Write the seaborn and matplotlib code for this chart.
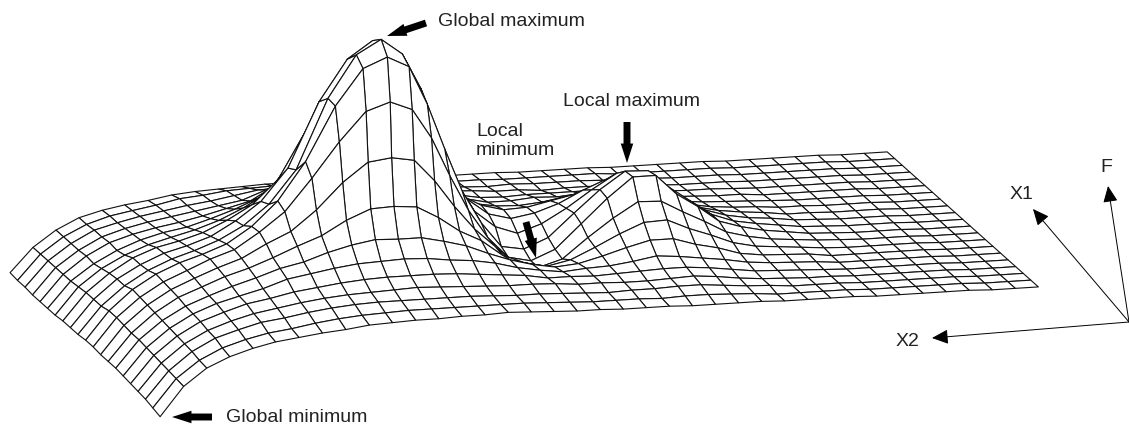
import numpy as np
import seaborn as sns
import matplotlib.pyplot as plt
from matplotlib.patches import FancyArrowPatch

# surface heights, one row per X1 line (back to front),
# one value per X2 line (right to left)
F_rows = [
    [0,0,0,1,1,1,1,1,2,2,2,2,2,3,3,3,3,4,4,4,4,4,6,6,6,7,7,7,6,5,4,2,-2,-5,-9,-15,-26,-42,-66],
    [0,0,0,1,1,1,1,1,2,2,2,2,2,4,4,4,4,4,5,5,6,7,9,11,11,12,12,12,11,10,7,5,0,-4,-8,-15,-26,-42,-67],
    [0,0,0,1,1,1,1,1,2,2,2,3,3,4,5,5,5,6,5,6,8,9,12,15,16,17,18,17,16,12,8,5,1,-3,-8,-14,-26,-42,-67],
    [0,0,0,1,1,1,1,1,2,2,2,3,4,5,6,6,5,7,7,9,10,13,17,21,25,27,28,27,23,14,10,6,2,-2,-7,-14,-26,-42,-68],
    [0,0,0,1,1,1,1,1,2,3,3,4,5,7,9,9,9,9,8,9,13,16,24,31,38,43,45,42,34,20,14,8,3,-1,-6,-13,-25,-42,-68],
    [0,0,0,1,1,1,1,1,3,3,4,5,8,11,15,14,12,13,11,11,16,23,32,44,58,66,70,64,52,30,20,12,5,1,-5,-14,-26,-42,-68],
    [0,0,0,1,1,1,1,2,3,4,5,7,12,17,21,22,19,15,13,14,18,28,44,60,85,104,110,100,78,42,28,17,9,3,-3,-12,-24,-41,-68],
    [0,0,0,1,1,1,2,2,4,5,7,11,18,24,33,35,28,23,18,17,23,35,56,87,119,151,165,148,112,62,38,24,13,6,1,-8,-22,-40,-67],
    [0,0,0,1,1,1,2,2,5,7,10,15,26,36,49,49,39,27,19,15,21,37,64,104,150,188,203,186,145,80,48,30,16,8,2,-8,-21,-40,-67],
    [0,0,0,1,1,1,2,3,6,8,12,19,32,45,61,61,46,29,15,7,15,32,64,108,159,195,211,197,155,85,52,32,19,10,3,-7,-21,-40,-67],
    [0,0,0,1,1,1,2,3,6,9,13,21,36,51,69,70,53,31,8,-2,2,27,60,104,150,189,200,190,154,100,62,38,22,13,6,-4,-18,-38,-66],
    [0,0,0,1,1,1,2,3,6,9,14,21,37,51,71,71,51,27,3,-7,-2,19,48,84,123,153,162,154,125,90,58,39,23,15,5,-5,-19,-38,-66],
    [0,0,0,1,1,1,2,3,5,7,11,17,29,40,52,53,38,20,0,-7,-3,17,36,60,87,109,113,110,91,65,45,34,21,13,4,-6,-20,-39,-67],
    [0,0,0,1,1,1,1,2,4,6,8,13,22,30,40,39,29,17,6,1,6,15,31,42,57,69,71,70,60,46,37,27,18,11,2,-7,-21,-40,-67],
    [0,0,0,1,1,1,1,1,4,5,6,9,16,21,28,28,22,15,9,7,11,17,25,34,40,45,45,46,42,36,28,23,15,8,0,-9,-22,-40,-67],
    [0,0,0,1,1,1,1,1,3,4,5,7,11,14,17,19,15,12,11,9,12,16,22,26,28,31,32,31,30,27,23,19,11,5,-1,-10,-23,-41,-68],
    [0,0,0,1,1,1,1,1,2,3,4,5,8,11,13,13,12,11,10,11,11,15,17,19,21,22,22,22,21,19,16,13,8,4,-3,-11,-24,-42,-69],
    [0,0,0,1,1,1,1,1,2,2,3,4,6,9,11,10,9,9,10,10,12,13,13,14,15,16,17,16,15,14,12,9,5,1,-5,-13,-25,-43,-70],
    [0,0,0,1,1,1,1,1,2,2,2,4,5,7,9,9,8,8,7,8,9,10,10,11,12,12,12,12,12,11,9,6,2,-1,-7,-14,-26,-44,-71],
    [0,0,0,1,1,1,1,1,2,2,2,2,4,5,6,6,5,6,6,6,7,8,9,9,9,9,9,9,8,7,5,2,-2,-5,-10,-17,-28,-45,-73],
    [0,0,0,1,1,1,1,1,2,2,2,2,3,3,3,3,4,4,4,5,5,6,7,8,7,7,6,6,5,4,1,-1,-4,-7,-12,-19,-29,-46,-75],
]

# where the X2 lines sit: evenly apart, a little closer together on the sagging left side
x2_lines = list(range(34)) + [33.95, 34.92, 35.86, 36.77, 37.63]

callout_labels = ["Global maximum", "Local maximum", "Local\nminimum", "Global minimum"]
axis_labels = ["X1", "X2", "F"]

sns.set_theme(style="white")
plt.rcParams["font.family"] = ["Liberation Sans", "DejaVu Sans"]

F = np.array(F_rows, dtype=float)
x2 = np.array(x2_lines, dtype=float)
x1 = np.arange(F.shape[0])
X2, X1 = np.meshgrid(x2, x1)

fig = plt.figure(figsize=(11.29, 4.28), dpi=100)
ax = fig.add_axes([313 / 1129, 31.2 / 428, 428 / 1129, 1.0], projection="3d")
ax.set_proj_type("ortho")
ax.view_init(elev=21.2, azim=62.4, roll=-7.1)
ax.set_box_aspect((4.213, 1.555, 1.402), zoom=2.469)
surf = ax.plot_surface(X2, X1, F, rstride=1, cstride=1, color="white",
                       edgecolor="#111111", linewidth=0.8, shade=False)
surf.set_clip_on(False)
ax.set_xlim(0, 38)
ax.set_ylim(0, 20)
ax.set_zlim(-80, 220)
ax.set_axis_off()

# overlay in pixel coordinates for the notes and arrows
over = fig.add_axes([0, 0, 1, 1], zorder=5)
over.set_xlim(0, 1129)
over.set_ylim(428, 0)
over.axis("off")

text_kw = dict(fontsize=14, color="#222222", va="center")
over.text(438, 21, callout_labels[0], **text_kw)
over.text(563, 101, callout_labels[1], **text_kw)
over.text(476, 141, callout_labels[2], linespacing=1.15, **text_kw)
over.text(226, 418, callout_labels[3], **text_kw)
over.text(1022, 194, axis_labels[0], ha="center", **text_kw)
over.text(908, 342, axis_labels[1], ha="center", **text_kw)
over.text(1106, 168, axis_labels[2], ha="center", **text_kw)

thick = "simple,head_width=9,head_length=14,tail_width=5"
for tail, tip in [((426, 23), (387, 36)), ((212, 417), (172, 417)),
                  ((627, 122), (627, 163)), ((526, 222), (536, 258))]:
    over.add_patch(FancyArrowPatch(tail, tip, arrowstyle=thick, mutation_scale=1,
                                   color="black", lw=0, shrinkA=0, shrinkB=0))

thin = "-|>,head_width=4.5,head_length=10"
for tip in [(1033, 209), (932, 338), (1108, 186)]:
    over.add_patch(FancyArrowPatch((1129, 322), tip, arrowstyle=thin, mutation_scale=1,
                                   color="black", lw=0.7, shrinkA=0, shrinkB=0))

fig.savefig("out.png", dpi=100)
